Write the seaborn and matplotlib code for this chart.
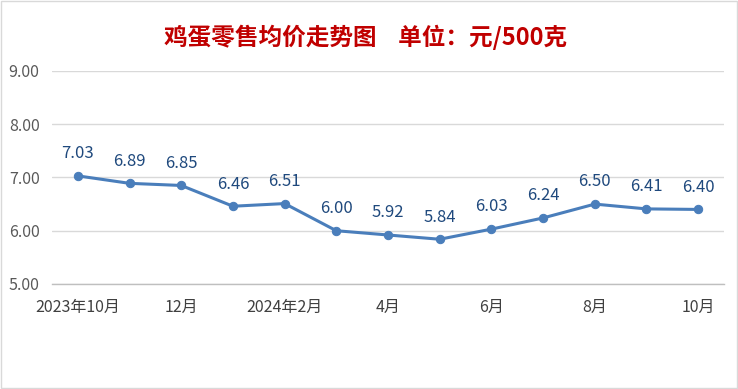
import numpy as np
import pandas as pd
import matplotlib
matplotlib.use("Agg")
import matplotlib.pyplot as plt
import seaborn as sns
from matplotlib.patches import Rectangle

# =========================
# DATA
# =========================
months = ["2023年10月", "11月", "12月", "2024年1月", "2月", "3月", "4月",
          "5月", "6月", "7月", "8月", "9月", "10月"]
tick_labels = ["2023年10月", "", "12月", "", "2024年2月", "", "4月",
               "", "6月", "", "8月", "", "10月"]
prices = [7.03, 6.89, 6.85, 6.46, 6.51, 6.00, 5.92,
          5.84, 6.03, 6.24, 6.50, 6.41, 6.40]

df = pd.DataFrame({"pos": np.arange(len(months)), "price": prices})

# =========================
# STYLE
# =========================
sns.set_style("white")
plt.rcParams["font.family"] = ["Noto Sans CJK SC", "DejaVu Sans"]

fig = plt.figure(figsize=(7.38, 3.89), dpi=100)
ax = fig.add_axes([0.0705, 0.270, 0.9105, 0.5475])

line_color = "#4A7EBB"

sns.lineplot(
    data=df, x="pos", y="price", ax=ax,
    color=line_color, linewidth=2.2,
    marker="o", markersize=6,
    markeredgecolor=line_color
)

# data labels
for x, y in zip(df["pos"], df["price"]):
    ax.annotate(
        f"{y:.2f}", (x, y),
        xytext=(0, 16), textcoords="offset points",
        ha="center", va="center",
        fontsize=12, color="#1F497D"
    )

# axes
ax.set_xlim(-0.5, len(months) - 0.5)
ax.set_ylim(5, 9)
ax.set_yticks([5, 6, 7, 8, 9])
ax.set_yticklabels([f"{v:.2f}" for v in [5, 6, 7, 8, 9]],
                   fontsize=11.5, color="#595959")
ax.set_xticks(df["pos"])
ax.set_xticklabels(tick_labels, fontsize=11.5, color="#404040")
ax.set_xticks(np.arange(-0.5, len(months)), minor=True)
ax.tick_params(axis="x", which="major", length=0, pad=11)
ax.tick_params(axis="x", which="minor", length=5, color="#BFBFBF", width=1)
ax.tick_params(axis="y", length=0, pad=9)

ax.grid(axis="y", color="#D9D9D9", linewidth=1)
ax.set_axisbelow(True)
for side in ["top", "right", "left"]:
    ax.spines[side].set_visible(False)
ax.spines["bottom"].set_color("#BFBFBF")
ax.spines["bottom"].set_linewidth(1)

ax.set_xlabel("")
ax.set_ylabel("")

# title
fig.text(0.496, 0.905, "鸡蛋零售均价走势图    单位：元/500克",
         ha="center", va="center", fontsize=17, fontweight="bold",
         color="#C00000")

# outer border
fig.patches.append(Rectangle((0.002, 0.003), 0.996, 0.994,
                             transform=fig.transFigure, fill=False,
                             edgecolor="#D9D9D9", linewidth=1))

fig.savefig("out.png", dpi=100)
